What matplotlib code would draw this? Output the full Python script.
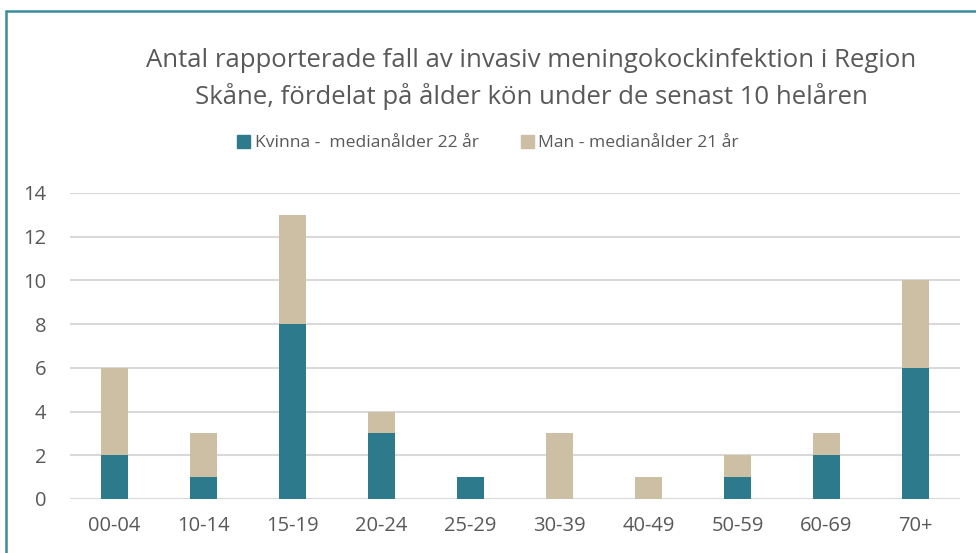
import matplotlib
matplotlib.use("Agg")
import matplotlib.pyplot as plt
from matplotlib.patches import Rectangle, Patch
import numpy as np

categories = ["00-04", "10-14", "15-19", "20-24", "25-29", "30-39", "40-49", "50-59", "60-69", "70+"]
kvinna = [2, 1, 8, 3, 1, 0, 0, 1, 2, 6]
man = [4, 2, 5, 1, 0, 3, 1, 1, 1, 4]
yticks = [0, 2, 4, 6, 8, 10, 12, 14]
title = "Antal rapporterade fall av invasiv meningokockinfektion i Region\nSkåne, fördelat på ålder kön under de senast 10 helåren"
label_k = "Kvinna -  medianålder 22 år"
label_m = "Man - medianålder 21 år"

c_k = "#2E7A8D"
c_m = "#CDBFA3"
txt = "#595959"

plt.rcParams['font.family'] = ['Open Sans', 'DejaVu Sans']

fig = plt.figure(figsize=(9.76, 5.53), dpi=100)
ax = fig.add_axes([70/976, 1-499/553, 890/976, (499-193)/553])

x = np.arange(len(categories))
ax.bar(x, kvinna, width=0.31, color=c_k, zorder=3, label=label_k)
ax.bar(x, man, width=0.31, bottom=kvinna, color=c_m, zorder=3, label=label_m)

ax.set_xlim(-0.5, len(categories)-0.5)
ax.set_ylim(0, 14)
ax.set_yticks(yticks)
ax.set_xticks(x)
ax.set_xticklabels(categories)
ax.grid(axis='y', color='#D9D9D9', linewidth=1.5, zorder=0)
ax.grid(axis='x', visible=False)
ax.set_axisbelow(True)
for s in ax.spines.values():
    s.set_visible(False)
ax.tick_params(axis='both', length=0, colors=txt, labelsize=14.5)
ax.tick_params(axis='x', pad=12)
ax.tick_params(axis='y', pad=17)

fig.text(0.544, 1-79/553, title, ha='center', va='center', fontsize=18.5, color=txt, linespacing=1.5)

handles = [Patch(color=c_k, label=label_k), Patch(color=c_m, label=label_m)]
fig.legend(handles=handles, loc='center', bbox_to_anchor=(0.5, 1-143/553), ncol=2,
           frameon=False, fontsize=12.6, labelcolor=txt, handlelength=0.75, handleheight=0.75,
           handletextpad=0.25, columnspacing=2.4)

fig.add_artist(Rectangle((6/976, -0.1), 1.2, 1-11/553+0.1, transform=fig.transFigure,
                         fill=False, edgecolor='#3A8A9E', linewidth=1.8))

fig.savefig("out.png", dpi=100)
